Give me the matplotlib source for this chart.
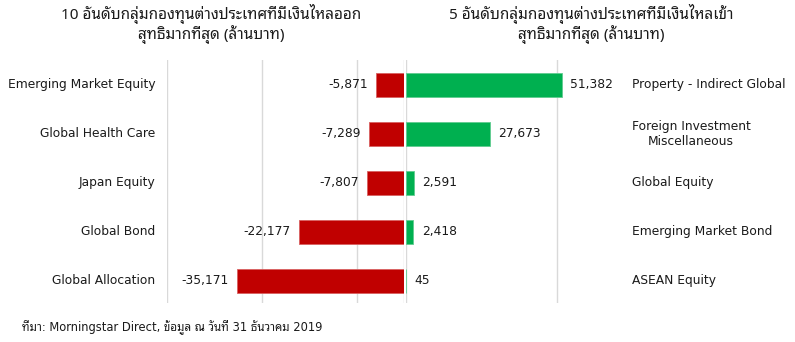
import matplotlib
matplotlib.use("Agg")
import matplotlib.pyplot as plt

# ข้อมูล (ล้านบาท)
out_names = ["Emerging Market Equity", "Global Health Care", "Japan Equity",
             "Global Bond", "Global Allocation"]
out_values = [-5871, -7289, -7807, -22177, -35171]

in_names = ["Property - Indirect Global", "Foreign Investment\nMiscellaneous",
            "Global Equity", "Emerging Market Bond", "ASEAN Equity"]
in_values = [51382, 27673, 2591, 2418, 45]

title_out = "10 อันดับกลุ่มกองทุนต่างประเทศที่มีเงินไหลออก\nสุทธิมากที่สุด (ล้านบาท)"
title_in = "5 อันดับกลุ่มกองทุนต่างประเทศที่มีเงินไหลเข้า\nสุทธิมากที่สุด (ล้านบาท)"
source = "ที่มา: Morningstar Direct, ข้อมูล ณ วันที่ 31 ธันวาคม 2019"

RED = "#C00000"
GREEN = "#00B050"
GRID = "#D9D9D9"
TXT = "#1a1a1a"
FS = 8.8
THAI = ["Noto Sans Thai Looped", "DejaVu Sans"]
LATIN_THAI = ["DejaVu Sans", "Noto Sans Thai Looped"]

W, H = 795, 342
fig = plt.figure(figsize=(W / 100, H / 100), dpi=100)

y = list(range(len(out_names)))
top, bottom = 60, 303

# ซ้าย: เงินไหลออก
axL = fig.add_axes([167 / W, 1 - bottom / H, (404 - 167) / W, (bottom - top) / H])
axL.barh(y, out_values, height=0.5, color=RED, edgecolor="#d86060", linewidth=0.6, zorder=3)
axL.set_xlim(-50000, 0)
axL.set_xticks([-50000, -30000, -10000, 0])
for v, yy in zip(out_values, y):
    axL.text(v - 1800, yy, f"{v:,}", ha="right", va="center", fontsize=FS, color=TXT)
for n, yy in zip(out_names, y):
    axL.text(-50000 - 2500, yy, n, ha="right", va="center", fontsize=FS, color=TXT)

# ขวา: เงินไหลเข้า
axR = fig.add_axes([406 / W, 1 - bottom / H, 212 / W, (bottom - top) / H])
axR.barh(y, in_values, height=0.5, color=GREEN, edgecolor="#60cc90", linewidth=0.6, zorder=3)
axR.set_xlim(0, 70000)
axR.set_xticks([0, 50000])
for v, yy in zip(in_values, y):
    axR.text(v + 2800, yy, f"{v:,}", ha="left", va="center", fontsize=FS, color=TXT)
for n, yy in zip(in_names, y):
    axR.text(74500, yy, n, ha="left", va="center", fontsize=FS, color=TXT,
             multialignment="center")

for ax in (axL, axR):
    ax.set_ylim(4.45, -0.51)
    ax.grid(axis="x", color=GRID, linewidth=1, zorder=0)
    ax.tick_params(length=0, labelbottom=False, labelleft=False)
    for s in ax.spines.values():
        s.set_visible(False)

fig.text(211 / W, 1 - 24 / H, title_out, ha="center", va="center", fontsize=11,
         family=THAI, color=TXT, linespacing=1.05)
fig.text(591 / W, 1 - 24 / H, title_in, ha="center", va="center", fontsize=11,
         family=THAI, color=TXT, linespacing=1.05)
fig.text(22 / W, 1 - 328 / H, source, ha="left", va="center", fontsize=8.3,
         family=LATIN_THAI, color=TXT)

fig.savefig("out.png", dpi=100)
